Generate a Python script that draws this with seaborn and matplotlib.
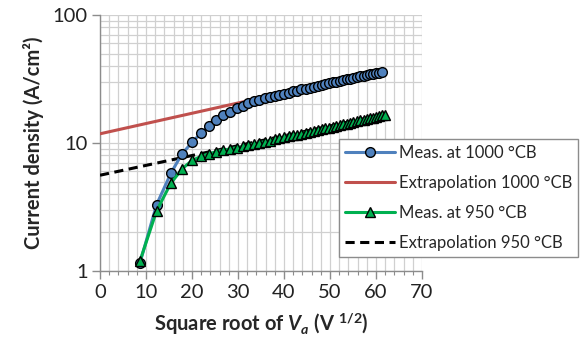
import numpy as np
import pandas as pd
import matplotlib
matplotlib.use("Agg")
import matplotlib.pyplot as plt
from matplotlib.ticker import FixedLocator, MultipleLocator, FuncFormatter, NullFormatter
from matplotlib.lines import Line2D
import seaborn as sns

# Measured current density at 1000 °CB
x_1000 = [8.7, 12.3, 15.4, 17.8, 20.0, 21.9, 23.7, 25.3, 26.8, 28.3, 29.7, 31.0,
          32.2, 33.5, 34.6, 35.8, 36.9, 38.0, 39.0, 40.0, 41.0, 42.0, 42.9, 43.8,
          44.7, 45.6, 46.5, 47.3, 48.2, 49.0, 49.8, 50.6, 51.4, 52.2, 52.9, 53.7,
          54.4, 55.1, 55.9, 56.6, 57.3, 58.0, 58.7, 59.3, 60.0, 60.7, 61.3]
j_1000 = [1.16, 3.3, 5.8, 8.2, 10.1, 11.9, 13.6, 15.1, 16.5, 17.6, 18.7, 19.6,
          20.4, 21.1, 21.7, 22.3, 22.8, 23.3, 23.8, 24.3, 24.8, 25.3, 25.7, 26.2,
          26.6, 27.1, 27.5, 28.0, 28.4, 28.8, 29.3, 29.7, 30.1, 30.6, 31.0, 31.4,
          31.8, 32.2, 32.7, 33.1, 33.5, 33.9, 34.3, 34.7, 35.1, 35.4, 35.8]

# Measured current density at 950 °CB
x_950 = [8.7, 12.3, 15.4, 17.9, 20.0, 21.9, 23.7, 25.3, 26.8, 28.3, 29.7, 31.0,
         32.2, 33.5, 34.6, 35.8, 36.9, 38.0, 39.0, 40.0, 41.0, 42.0, 42.9, 43.8,
         44.7, 45.6, 46.5, 47.3, 48.2, 49.0, 49.8, 50.6, 51.4, 52.2, 52.9, 53.7,
         54.4, 55.1, 55.9, 56.6, 57.3, 58.0, 58.7, 59.3, 60.0, 60.7, 61.3, 62.0]
j_950 = [1.2, 2.95, 4.85, 6.3, 7.3, 7.85, 8.25, 8.55, 8.8, 9.0, 9.2, 9.4,
         9.6, 9.85, 10.05, 10.25, 10.45, 10.65, 10.85, 11.05, 11.25, 11.45, 11.65, 11.85,
         12.05, 12.25, 12.45, 12.6, 12.8, 13.0, 13.2, 13.4, 13.6, 13.8, 14.0, 14.2,
         14.4, 14.6, 14.8, 15.0, 15.2, 15.4, 15.6, 15.8, 16.0, 16.2, 16.4, 16.6]

# Straight-line (log scale) extrapolations
x_ext_1000 = [0.0, 61.3]
j_ext_1000 = [11.8, 36.6]
x_ext_950 = [0.0, 62.0]
j_ext_950 = [5.6, 16.8]

labels = ["Meas. at 1000 °CB", "Extrapolation 1000 °CB",
          "Meas. at 950 °CB", "Extrapolation 950 °CB"]
y_ticks = [1, 10, 100]
x_ticks = [0, 10, 20, 30, 40, 50, 60, 70]

sns.set_style("white")
plt.rcParams["font.family"] = ["Lato", "DejaVu Sans"]
plt.rcParams["mathtext.fontset"] = "custom"
plt.rcParams["mathtext.it"] = "Lato:italic:bold"
plt.rcParams["mathtext.rm"] = "Lato:bold"
plt.rcParams["mathtext.bf"] = "Lato:bold"

blue = "#4F81BD"
red = "#C0504D"
green = "#00B050"

fig = plt.figure(figsize=(5.80, 3.43), dpi=100)
ax = fig.add_axes([100 / 580, 72 / 343, 322 / 580, 256 / 343])

df_1000 = pd.DataFrame({"x": x_1000, "j": j_1000})
df_950 = pd.DataFrame({"x": x_950, "j": j_950})
df_e1000 = pd.DataFrame({"x": x_ext_1000, "j": j_ext_1000})
df_e950 = pd.DataFrame({"x": x_ext_950, "j": j_ext_950})

sns.lineplot(data=df_e1000, x="x", y="j", ax=ax, color=red, linewidth=2.2,
             zorder=3, sort=False)
sns.lineplot(data=df_e950, x="x", y="j", ax=ax, color="black", linewidth=2.2,
             linestyle=(0, (3, 1.8)), zorder=3, sort=False)
sns.lineplot(data=df_1000, x="x", y="j", ax=ax, color=blue, linewidth=2.2,
             marker="o", markersize=7, markerfacecolor=blue,
             markeredgecolor="black", markeredgewidth=1.0, zorder=4, sort=False)
sns.lineplot(data=df_950, x="x", y="j", ax=ax, color=green, linewidth=2.2,
             marker="^", markersize=7.5, markerfacecolor=green,
             markeredgecolor="black", markeredgewidth=1.0, zorder=5, sort=False)

ax.set_yscale("log")
ax.set_xlim(0, 70)
ax.set_ylim(1, 100)

ax.xaxis.set_major_locator(FixedLocator(x_ticks))
ax.xaxis.set_minor_locator(MultipleLocator(2))
ax.yaxis.set_major_locator(FixedLocator(y_ticks))
ax.yaxis.set_minor_locator(FixedLocator([m * d for d in (1, 10) for m in range(2, 10)]))
ax.yaxis.set_major_formatter(FuncFormatter(lambda v, p: f"{v:g}"))
ax.yaxis.set_minor_formatter(NullFormatter())

ax.grid(True, which="both", color="#D0D0D0", linewidth=0.9)
ax.set_axisbelow(True)

for side in ("top", "right"):
    ax.spines[side].set_visible(False)
for side in ("left", "bottom"):
    ax.spines[side].set_color("#8C8C8C")
    ax.spines[side].set_linewidth(1.0)

ax.tick_params(axis="both", which="major", labelsize=14.5, colors="#8C8C8C",
               labelcolor="#222222", length=6, width=1.0, direction="out",
               left=True, bottom=True, pad=3)
ax.tick_params(axis="x", which="minor", colors="#8C8C8C", length=3, width=0.8,
               bottom=True, direction="out")
ax.tick_params(axis="y", which="minor", left=False)

ax.set_xlabel(r"Square root of $V_a$ (V $^{\mathrm{1/2}}$)", fontsize=14.5,
              fontweight="bold", labelpad=7)
ax.set_ylabel("Current density (A/cm²)", fontsize=14.5, fontweight="bold",
              labelpad=6)

handles = [
    Line2D([], [], color=blue, linewidth=2.2, marker="o", markersize=7,
           markerfacecolor=blue, markeredgecolor="black", markeredgewidth=1.0),
    Line2D([], [], color=red, linewidth=2.2),
    Line2D([], [], color=green, linewidth=2.2, marker="^", markersize=7.5,
           markerfacecolor=green, markeredgecolor="black", markeredgewidth=1.0),
    Line2D([], [], color="black", linewidth=2.2, linestyle=(0, (3, 1.8))),
]
leg = fig.legend(handles, labels, loc="upper left",
                 bbox_to_anchor=(339 / 580, 1 - 139 / 343),
                 frameon=True, fancybox=False, fontsize=12,
                 handlelength=3.0, handletextpad=0.25, labelspacing=0.85,
                 borderpad=0.35, borderaxespad=0.0)
leg.get_frame().set_edgecolor("#8C8C8C")
leg.get_frame().set_linewidth(1.0)
leg.get_frame().set_facecolor("white")
leg.get_frame().set_alpha(1.0)

fig.savefig("out.png", dpi=100)
